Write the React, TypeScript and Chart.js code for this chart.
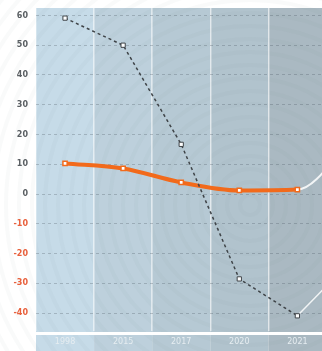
import React, { useEffect, useRef } from "react";
import { Chart, registerables } from "chart.js";

Chart.register(...registerables);

const categories = ["1998", "2015", "2017", "2020", "2021", "2023"];
const darkSeries = [59.1, 50.0, 16.7, -28.5, -40.9, -21.0];
const orangeSeries = [10.3, 8.6, 3.9, 1.2, 1.5, 20.0];
const yTicks = [60, 50, 40, 30, 20, 10, 0, -10, -20, -30, -40];
const columnColors = ["#c6dbe8", "#bdd0dc", "#b6c9d4", "#b1c3cd", "#aab9c2", "#a3b1b9"];

const bgPlugin = {
  id: "bgPlugin",
  beforeDraw(chart: any) {
    const { ctx, chartArea, scales, width, height } = chart;
    const x = scales.x;
    ctx.save();
    ctx.fillStyle = "#ffffff";
    ctx.fillRect(0, 0, width, height);
    const step = x.getPixelForValue(1) - x.getPixelForValue(0);
    categories.forEach((_, i) => {
      const cx = x.getPixelForValue(i);
      ctx.fillStyle = columnColors[i % columnColors.length];
      ctx.fillRect(cx - step / 2, chartArea.top, step, height - chartArea.top);
    });
    // concentric rings
    ctx.beginPath();
    ctx.lineWidth = 4;
    ctx.strokeStyle = "rgba(120,130,140,0.045)";
    for (let r = 10; r < 420; r += 13) {
      ctx.moveTo(250 + r, 205);
      ctx.arc(250, 205, r, 0, Math.PI * 2);
    }
    ctx.stroke();
    // white axis line
    ctx.fillStyle = "#ffffff";
    ctx.fillRect(chartArea.left, chartArea.bottom + 1, chartArea.right - chartArea.left, 3);
    ctx.restore();
  },
};

export default function App() {
  const ref = useRef<HTMLCanvasElement>(null);
  useEffect(() => {
    if (!ref.current) return;
    const chart = new Chart(ref.current, {
      type: "line",
      data: {
        labels: categories,
        datasets: [
          {
            data: darkSeries,
            borderColor: "#3f4448",
            borderWidth: 1.5,
            borderDash: [3, 3],
            tension: 0,
            pointStyle: "rect",
            pointRadius: 3,
            pointBackgroundColor: "#ffffff",
            pointBorderColor: "#3f4448",
            pointBorderWidth: 1,
            segment: {
              borderColor: (c: any) => (c.p0DataIndex >= 4 ? "rgba(255,255,255,0.85)" : undefined),
              borderDash: (c: any) => (c.p0DataIndex >= 4 ? [] : undefined),
            },
          },
          {
            data: orangeSeries,
            borderColor: "#f26a1b",
            borderWidth: 4,
            cubicInterpolationMode: "monotone",
            pointStyle: "rect",
            pointRadius: 3,
            pointBackgroundColor: "#ffffff",
            pointBorderColor: "#f26a1b",
            pointBorderWidth: 1.5,
            segment: {
              borderColor: (c: any) => (c.p0DataIndex >= 4 ? "rgba(255,255,255,0.85)" : undefined),
              borderWidth: (c: any) => (c.p0DataIndex >= 4 ? 2 : undefined),
            },
          },
        ],
      },
      options: {
        animation: false,
        responsive: false,
        layout: { padding: { top: 8, right: 3, left: 0, bottom: 0 } },
        plugins: { legend: { display: false }, tooltip: { enabled: false } },
        scales: {
          x: {
            offset: true,
            border: { display: false },
            grid: {
              offset: true,
              drawTicks: false,
              color: "rgba(255,255,255,0.55)",
              lineWidth: 1.5,
            },
            ticks: {
              padding: 6,
              color: "#e6edf1",
              font: { family: "DejaVu Sans", size: 8 },
            },
            afterFit: (s: any) => {
              s.height = 20;
            },
          },
          y: {
            min: -46,
            max: 62.5,
            border: { display: false, dash: [3, 3] },
            afterBuildTicks: (s: any) => {
              s.ticks = yTicks.map((v) => ({ value: v }));
            },
            grid: {
              drawTicks: false,
              color: "rgba(70,80,90,0.28)",
              lineWidth: 1,
            },
            ticks: {
              padding: 8,
              color: (c: any) => (c.tick && c.tick.value < 0 ? "#e8603c" : "#5a5f63"),
              font: { family: "DejaVu Sans", size: 8, weight: "bold" },
            },
            afterFit: (s: any) => {
              s.width = 36;
              s.paddingTop = 0;
              s.paddingBottom = 0;
            },
          },
        },
      },
      plugins: [bgPlugin],
    } as any);
    return () => chart.destroy();
  }, []);
  return (
    <div style={{ position: "fixed", left: 0, top: 0, width: 390, height: 351 }}>
      <canvas ref={ref} width={390} height={351} style={{ width: 390, height: 351, display: "block" }} />
    </div>
  );
}
